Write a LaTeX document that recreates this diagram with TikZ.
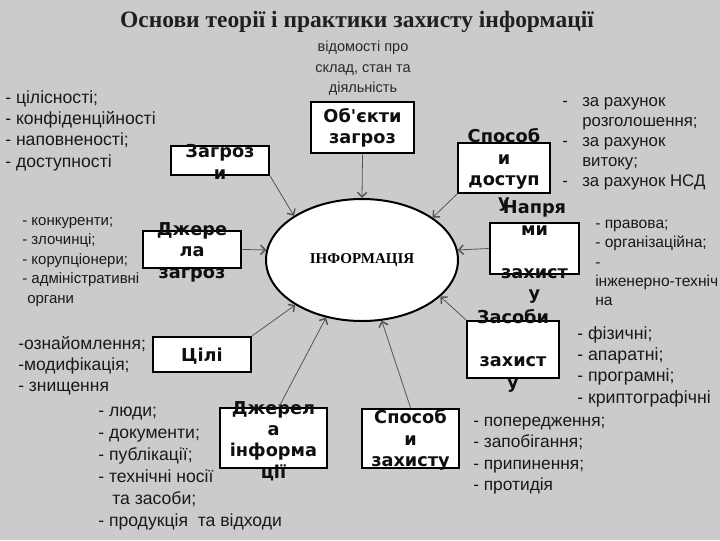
\documentclass[tikz,border=0pt]{standalone}
\usepackage{fontspec}
\setmainfont{Liberation Serif}
\setsansfont{Liberation Sans}
\newfontfamily\boxfont[Ligatures=TeXOff]{DejaVu Sans}
\usetikzlibrary{shapes.geometric,arrows.meta}

\begin{document}
\begin{tikzpicture}[x=0.75pt,y=0.75pt,yscale=-1,xscale=1,
  box/.style={draw, line width=1.9pt, fill=white, inner sep=0pt},
  boxtxt/.style={align=center, inner sep=0pt, text={rgb,255:red,15;green,15;blue,15}, font=\boxfont\bfseries\fontsize{13.3}{16.1}\selectfont},
  lst/.style={anchor=north west, align=left, inner sep=0pt, text={rgb,255:red,25;green,25;blue,25}, font=\sffamily},
  arr/.style={draw={rgb,255:red,85;green,85;blue,85}, line width=0.6pt, -{Straight Barb[length=3.5pt,width=7pt,line width=1.1pt]}}]

%Shape: Background
\path[use as bounding box, fill={rgb, 255:red, 203; green, 203; blue, 203 }] (0,0) rectangle (720,540);

% Text Node
\node[inner sep=0pt, text={rgb,255:red,35;green,30;blue,30}, font=\bfseries\fontsize{17.6}{21}\selectfont] (title) at (357,22) {Основи теорії і практики захисту інформації};

%Shape: Ellipse
\node[ellipse, draw, line width=1.5pt, fill=white, minimum width=144pt, minimum height=91.5pt, inner sep=0pt, font=\bfseries\fontsize{11.25}{13}\selectfont] (info) at (362,260) {ІНФОРМАЦІЯ};

%Shape: Rectangles
\node[box, minimum width=77.25pt, minimum height=38.25pt] (obj) at (362.5,127.5) {};
\node[box, minimum width=73.5pt, minimum height=21.75pt] (thr) at (220,160.5) {};
\node[box, minimum width=73.5pt, minimum height=27.75pt] (src) at (192,249.5) {};
\node[box, minimum width=73.5pt, minimum height=26.25pt] (goal) at (202,354.5) {};
\node[box, minimum width=80.25pt, minimum height=45pt] (inf) at (273.5,438) {};
\node[box, minimum width=72.75pt, minimum height=44.25pt] (prot) at (410.5,438.5) {};
\node[box, minimum width=69pt, minimum height=42.75pt] (means) at (513,349.5) {};
\node[box, minimum width=66.75pt, minimum height=38.25pt] (dir) at (534.5,248.5) {};
\node[box, minimum width=69pt, minimum height=37.5pt] (acc) at (504,168) {};

% Text Node
\node[boxtxt] (obj-t) at (362.5,128) {Об'єкти\\загроз};
\node[boxtxt] (thr-t) at (220,162) {Загроз\\и};
\node[boxtxt] (src-t) at (192,252) {Джере\\ла\\загроз};
\node[boxtxt] (goal-t) at (202,356) {Цілі};
\node[boxtxt] (inf-t) at (273.5,441) {Джерел\\а\\інформа\\ції};
\node[boxtxt] (prot-t) at (410.5,440) {Способ\\и\\захисту};
\node[boxtxt] (means-t) at (513,351) {Засоби\\\mbox{}\\захист\\у};
\node[boxtxt] (dir-t) at (534.5,252) {Напря\\ми\\\mbox{}\\захист\\у};
\node[boxtxt] (acc-t) at (504,170) {Способ\\и\\доступ\\у};

%Straight Lines
\draw[arr] (obj.south) -- (info.90);
\draw[arr] (thr.south east) -- (info.147);
\draw[arr] (src.east) -- (info.174);
\draw[arr] (goal.north east) -- (info.214);
\draw[arr] (inf.80) -- (info.238);
\draw[arr] (prot.north) -- (info.288);
\draw[arr] (means.north west) -- (info.335);
\draw[arr] (dir.west) -- (info.6);
\draw[arr] (acc.south west) -- (info.31);

% Text Node
\node[anchor=north, align=center, inner sep=0pt, text={rgb,255:red,40;green,40;blue,40}, font=\sffamily\fontsize{10.9}{15.3}\selectfont] (obj-n) at (363,41) {відомості про\\склад, стан та\\діяльність};
% Text Node
\node[lst, font=\sffamily\fontsize{13.2}{16}\selectfont] (thr-n) at (5,90) {- цілісності;\\- конфіденційності\\- наповненості;\\- доступності};
% Text Node
\node[lst, font=\sffamily\fontsize{11.25}{14.6}\selectfont] (src-n) at (22,217) {- конкуренти;\\- злочинці;\\- корупціонери;\\- адміністративні\\\hspace*{3.75pt}органи};
% Text Node
\node[lst, font=\sffamily\fontsize{13.1}{15.75}\selectfont] (goal-n) at (18,336) {-ознайомлення;\\-модифікація;\\- знищення};
% Text Node
\node[lst, font=\sffamily\fontsize{13.2}{16.5}\selectfont] (inf-n) at (98,407) {- люди;\\- документи;\\- публікації;\\- технічні носії\\\hspace*{10.5pt}та засоби;\\- продукція\ \ та відходи};
% Text Node
\node[lst, font=\sffamily\fontsize{13}{16}\selectfont] (prot-n) at (473,417) {- попередження;\\- запобігання;\\- припинення;\\- протидія};
% Text Node
\node[lst, font=\sffamily\fontsize{13.3}{16}\selectfont] (means-n) at (577,326) {- фізичні;\\- апаратні;\\- програмні;\\- криптографічні};
% Text Node
\node[lst, font=\sffamily\fontsize{11.7}{14.4}\selectfont] (dir-n) at (595,220) {- правова;\\- організаційна;\\-\\інженерно-техніч\\на};
% Text Node
\node[lst, font=\sffamily\fontsize{12.6}{15}\selectfont] (acc-n) at (562,97) {\makebox[15pt][l]{-}за рахунок\\\hspace*{15pt}розголошення;\\\makebox[15pt][l]{-}за рахунок\\\hspace*{15pt}витоку;\\\makebox[15pt][l]{-}за рахунок НСД};

\end{tikzpicture}
\end{document}
